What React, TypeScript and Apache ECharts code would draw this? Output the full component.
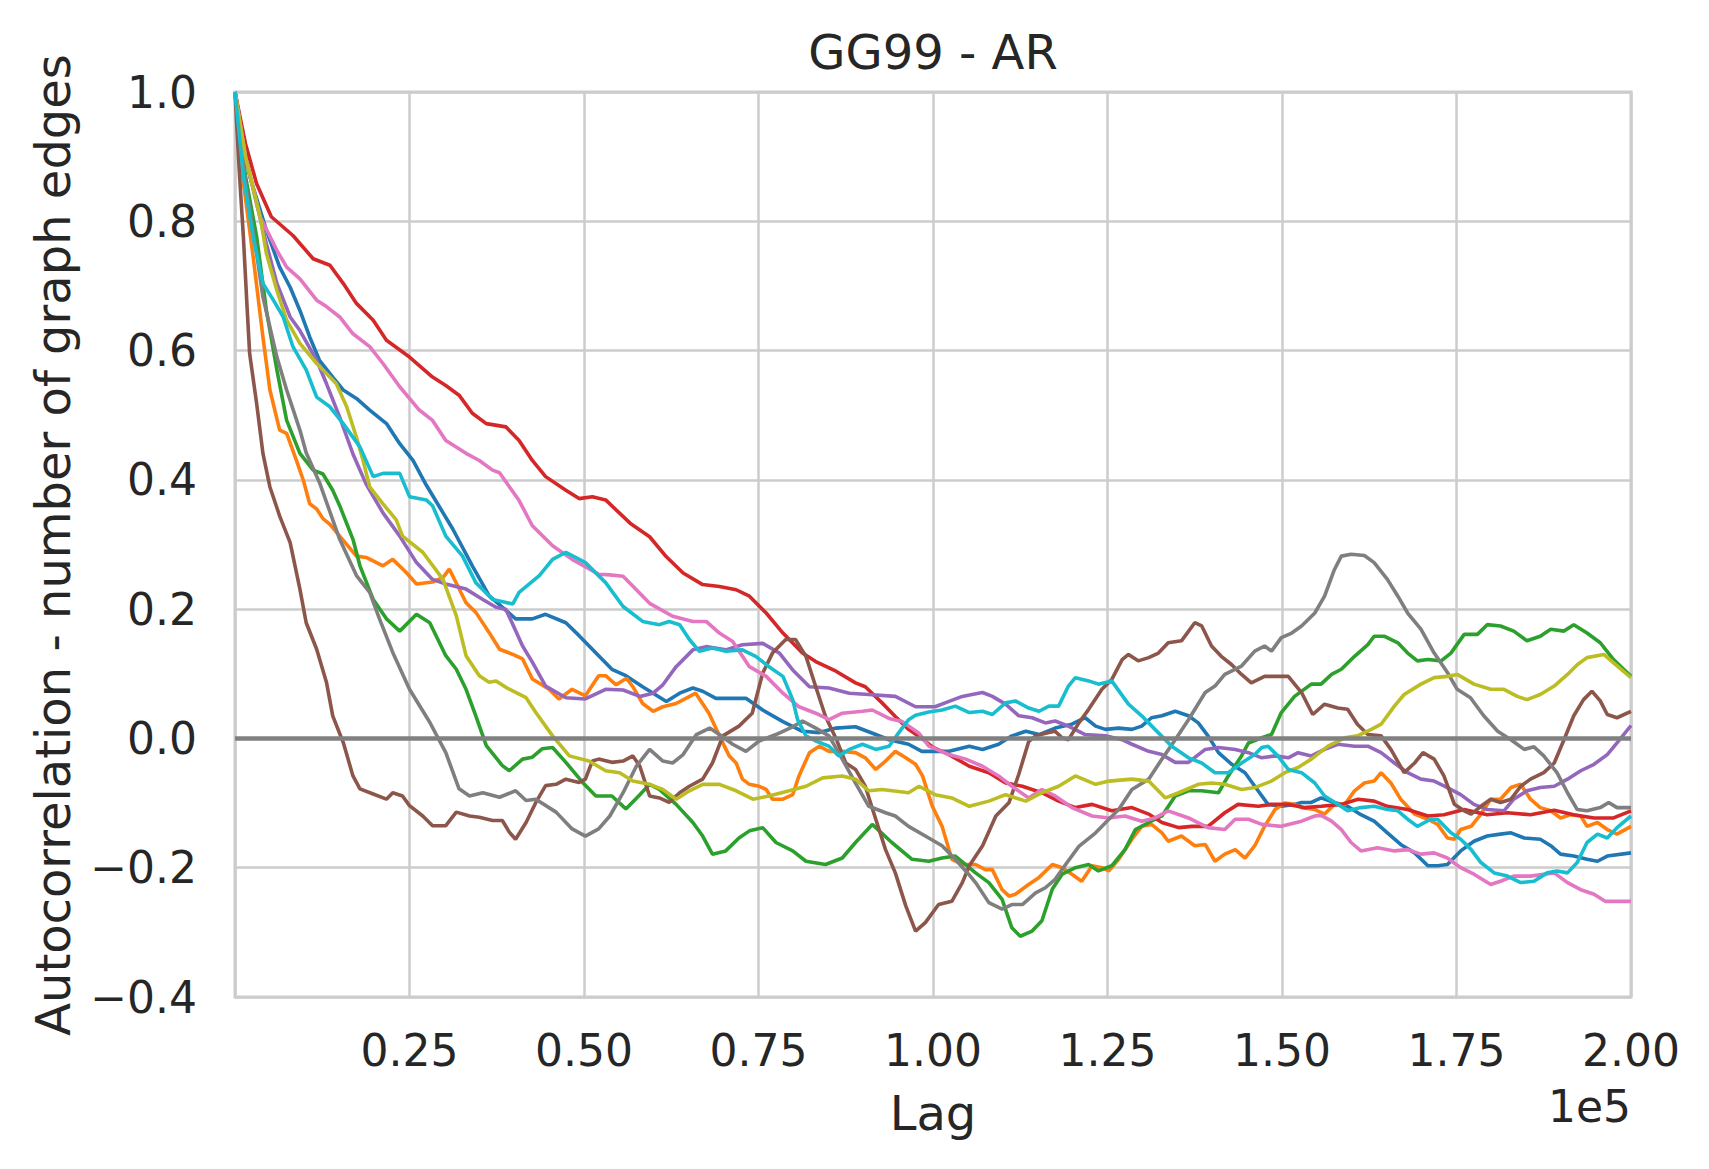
import React, { useEffect, useRef } from "react";
import * as echarts from "echarts";

type Pt = [number, number];

// Lag in units of 1e5, autocorrelation values
const seriesC0: Pt[] = [[0,1],[0.021,0.87],[0.045,0.786],[0.064,0.729],[0.079,0.698],[0.093,0.662],[0.107,0.621],[0.121,0.585],[0.14,0.559],[0.155,0.539],[0.174,0.526],[0.193,0.508],[0.217,0.487],[0.236,0.456],[0.255,0.43],[0.274,0.392],[0.293,0.358],[0.312,0.324],[0.34,0.267],[0.364,0.221],[0.402,0.185],[0.426,0.185],[0.445,0.192],[0.474,0.179],[0.493,0.159],[0.521,0.128],[0.54,0.107],[0.56,0.097],[0.584,0.08],[0.618,0.057],[0.637,0.07],[0.656,0.078],[0.67,0.073],[0.689,0.062],[0.708,0.062],[0.732,0.062],[0.756,0.044],[0.785,0.026],[0.813,0.011],[0.837,0.009],[0.861,0.016],[0.889,0.018],[0.918,0.006],[0.937,-0.002],[0.965,-0.009],[0.984,-0.02],[1.003,-0.02],[1.023,-0.02],[1.052,-0.012],[1.071,-0.017],[1.094,-0.009],[1.113,0.004],[1.133,0.011],[1.152,0.006],[1.175,0.016],[1.199,0.022],[1.218,0.032],[1.233,0.019],[1.247,0.014],[1.266,0.016],[1.285,0.014],[1.299,0.019],[1.313,0.032],[1.328,0.035],[1.347,0.042],[1.366,0.035],[1.38,0.024],[1.394,0.004],[1.409,-0.022],[1.428,-0.04],[1.447,-0.053],[1.461,-0.074],[1.48,-0.102],[1.499,-0.105],[1.518,-0.102],[1.528,-0.099],[1.542,-0.099],[1.556,-0.092],[1.575,-0.099],[1.594,-0.105],[1.613,-0.118],[1.632,-0.128],[1.651,-0.146],[1.67,-0.164],[1.69,-0.177],[1.709,-0.197],[1.723,-0.197],[1.737,-0.195],[1.756,-0.174],[1.775,-0.159],[1.794,-0.151],[1.813,-0.148],[1.828,-0.146],[1.847,-0.154],[1.87,-0.156],[1.885,-0.166],[1.899,-0.179],[1.918,-0.182],[1.937,-0.187],[1.952,-0.19],[1.966,-0.182],[2.0,-0.177]];

const seriesC1: Pt[] = [[0,1],[0.012,0.86],[0.026,0.745],[0.04,0.621],[0.05,0.539],[0.064,0.477],[0.074,0.472],[0.088,0.43],[0.098,0.399],[0.107,0.363],[0.117,0.355],[0.126,0.34],[0.136,0.331],[0.15,0.313],[0.174,0.282],[0.188,0.28],[0.212,0.267],[0.226,0.277],[0.245,0.257],[0.26,0.239],[0.283,0.242],[0.298,0.249],[0.307,0.262],[0.331,0.21],[0.345,0.195],[0.364,0.164],[0.379,0.138],[0.398,0.13],[0.412,0.123],[0.426,0.092],[0.45,0.076],[0.464,0.061],[0.483,0.076],[0.502,0.066],[0.521,0.097],[0.531,0.097],[0.546,0.083],[0.561,0.093],[0.57,0.08],[0.584,0.054],[0.599,0.042],[0.613,0.049],[0.632,0.054],[0.646,0.062],[0.66,0.07],[0.679,0.039],[0.694,0.004],[0.708,-0.027],[0.718,-0.038],[0.727,-0.063],[0.737,-0.071],[0.751,-0.074],[0.761,-0.079],[0.77,-0.094],[0.785,-0.094],[0.799,-0.087],[0.808,-0.058],[0.823,-0.022],[0.837,-0.012],[0.851,-0.02],[0.87,-0.02],[0.889,-0.022],[0.903,-0.03],[0.918,-0.048],[0.932,-0.035],[0.946,-0.02],[0.961,-0.03],[0.975,-0.04],[0.985,-0.058],[0.999,-0.105],[1.013,-0.136],[1.027,-0.187],[1.042,-0.195],[1.061,-0.195],[1.075,-0.203],[1.085,-0.203],[1.099,-0.234],[1.109,-0.244],[1.118,-0.241],[1.137,-0.226],[1.152,-0.215],[1.171,-0.195],[1.185,-0.2],[1.199,-0.21],[1.213,-0.221],[1.228,-0.197],[1.242,-0.2],[1.252,-0.205],[1.266,-0.187],[1.285,-0.156],[1.299,-0.136],[1.313,-0.133],[1.328,-0.146],[1.337,-0.159],[1.356,-0.151],[1.375,-0.166],[1.39,-0.164],[1.404,-0.19],[1.418,-0.179],[1.433,-0.172],[1.447,-0.185],[1.461,-0.166],[1.475,-0.136],[1.49,-0.11],[1.504,-0.1],[1.518,-0.102],[1.528,-0.107],[1.547,-0.11],[1.561,-0.117],[1.575,-0.102],[1.59,-0.102],[1.604,-0.081],[1.618,-0.069],[1.632,-0.066],[1.642,-0.053],[1.656,-0.069],[1.67,-0.094],[1.69,-0.117],[1.709,-0.125],[1.723,-0.133],[1.737,-0.154],[1.747,-0.156],[1.756,-0.141],[1.771,-0.136],[1.785,-0.117],[1.799,-0.094],[1.813,-0.094],[1.828,-0.076],[1.842,-0.071],[1.856,-0.094],[1.87,-0.107],[1.885,-0.112],[1.899,-0.123],[1.913,-0.118],[1.928,-0.12],[1.937,-0.136],[1.952,-0.13],[1.966,-0.141],[1.98,-0.148],[2.0,-0.136]];

const seriesC2: Pt[] = [[0,1],[0.015,0.87],[0.031,0.776],[0.045,0.662],[0.06,0.57],[0.074,0.492],[0.093,0.441],[0.112,0.415],[0.126,0.409],[0.14,0.384],[0.15,0.36],[0.169,0.308],[0.179,0.267],[0.198,0.215],[0.217,0.185],[0.236,0.166],[0.26,0.192],[0.279,0.179],[0.302,0.128],[0.317,0.107],[0.331,0.076],[0.345,0.035],[0.36,-0.011],[0.383,-0.042],[0.393,-0.05],[0.412,-0.032],[0.426,-0.029],[0.44,-0.016],[0.455,-0.014],[0.474,-0.037],[0.498,-0.068],[0.517,-0.089],[0.54,-0.089],[0.56,-0.109],[0.58,-0.087],[0.594,-0.071],[0.608,-0.079],[0.632,-0.102],[0.656,-0.13],[0.67,-0.151],[0.684,-0.179],[0.703,-0.174],[0.722,-0.154],[0.737,-0.143],[0.756,-0.138],[0.775,-0.161],[0.799,-0.174],[0.818,-0.19],[0.846,-0.195],[0.87,-0.185],[0.889,-0.161],[0.913,-0.133],[0.941,-0.161],[0.97,-0.187],[0.994,-0.19],[1.013,-0.185],[1.032,-0.182],[1.061,-0.208],[1.08,-0.223],[1.099,-0.249],[1.113,-0.293],[1.125,-0.306],[1.142,-0.298],[1.156,-0.282],[1.171,-0.233],[1.185,-0.21],[1.204,-0.2],[1.223,-0.195],[1.237,-0.205],[1.256,-0.197],[1.275,-0.172],[1.29,-0.141],[1.309,-0.13],[1.328,-0.12],[1.347,-0.089],[1.366,-0.081],[1.385,-0.081],[1.409,-0.084],[1.423,-0.058],[1.442,-0.027],[1.452,-0.007],[1.471,0.001],[1.485,0.006],[1.499,0.04],[1.518,0.065],[1.542,0.084],[1.556,0.084],[1.571,0.099],[1.585,0.107],[1.604,0.127],[1.623,0.145],[1.632,0.158],[1.647,0.158],[1.666,0.148],[1.68,0.132],[1.694,0.12],[1.709,0.122],[1.728,0.12],[1.742,0.132],[1.761,0.161],[1.78,0.161],[1.794,0.176],[1.813,0.174],[1.832,0.166],[1.851,0.151],[1.87,0.158],[1.885,0.169],[1.904,0.166],[1.918,0.176],[1.937,0.163],[1.956,0.148],[1.975,0.122],[2.0,0.096]];

const seriesC3: Pt[] = [[0,1],[0.015,0.92],[0.031,0.858],[0.052,0.807],[0.083,0.778],[0.112,0.742],[0.136,0.732],[0.155,0.704],[0.174,0.673],[0.198,0.647],[0.217,0.616],[0.25,0.59],[0.283,0.559],[0.302,0.546],[0.321,0.531],[0.34,0.503],[0.36,0.487],[0.388,0.482],[0.407,0.461],[0.426,0.43],[0.445,0.405],[0.474,0.384],[0.493,0.371],[0.512,0.374],[0.531,0.369],[0.566,0.333],[0.594,0.312],[0.618,0.281],[0.642,0.256],[0.67,0.238],[0.694,0.235],[0.718,0.23],[0.737,0.22],[0.761,0.194],[0.785,0.163],[0.813,0.132],[0.832,0.119],[0.861,0.104],[0.889,0.086],[0.903,0.08],[0.927,0.055],[0.946,0.034],[0.965,0.014],[0.984,0.0],[1.0,-0.014],[1.023,-0.025],[1.052,-0.043],[1.08,-0.053],[1.104,-0.069],[1.128,-0.074],[1.156,-0.084],[1.18,-0.097],[1.204,-0.107],[1.228,-0.102],[1.256,-0.112],[1.285,-0.107],[1.309,-0.117],[1.328,-0.13],[1.352,-0.138],[1.371,-0.136],[1.394,-0.136],[1.418,-0.115],[1.437,-0.102],[1.466,-0.105],[1.485,-0.102],[1.509,-0.102],[1.532,-0.107],[1.556,-0.105],[1.585,-0.102],[1.609,-0.094],[1.632,-0.097],[1.651,-0.105],[1.68,-0.11],[1.709,-0.12],[1.732,-0.118],[1.761,-0.11],[1.794,-0.118],[1.823,-0.115],[1.856,-0.118],[1.89,-0.111],[1.918,-0.118],[1.947,-0.123],[1.975,-0.123],[2.0,-0.112]];

const seriesC4: Pt[] = [[0,1],[0.015,0.9],[0.031,0.827],[0.045,0.765],[0.06,0.704],[0.079,0.652],[0.093,0.631],[0.117,0.585],[0.131,0.549],[0.15,0.497],[0.169,0.44],[0.188,0.393],[0.212,0.349],[0.236,0.313],[0.26,0.272],[0.283,0.246],[0.302,0.239],[0.331,0.231],[0.355,0.215],[0.374,0.203],[0.388,0.2],[0.412,0.143],[0.426,0.118],[0.445,0.081],[0.474,0.063],[0.502,0.061],[0.531,0.076],[0.556,0.075],[0.58,0.065],[0.599,0.07],[0.613,0.083],[0.632,0.111],[0.656,0.137],[0.675,0.142],[0.703,0.137],[0.727,0.145],[0.756,0.147],[0.78,0.132],[0.799,0.106],[0.823,0.08],[0.851,0.078],[0.88,0.07],[0.908,0.068],[0.946,0.065],[0.975,0.049],[1.003,0.049],[1.022,0.057],[1.042,0.065],[1.056,0.068],[1.071,0.071],[1.085,0.065],[1.104,0.053],[1.123,0.035],[1.142,0.032],[1.161,0.024],[1.175,0.027],[1.194,0.019],[1.218,0.006],[1.247,0.004],[1.271,-0.002],[1.285,-0.009],[1.309,-0.02],[1.328,-0.025],[1.347,-0.037],[1.366,-0.037],[1.39,-0.017],[1.409,-0.014],[1.433,-0.017],[1.452,-0.022],[1.471,-0.03],[1.49,-0.027],[1.509,-0.03],[1.523,-0.022],[1.542,-0.027],[1.561,-0.017],[1.58,-0.009],[1.604,-0.012],[1.623,-0.012],[1.642,-0.022],[1.661,-0.038],[1.68,-0.053],[1.699,-0.063],[1.718,-0.066],[1.737,-0.076],[1.756,-0.087],[1.775,-0.102],[1.794,-0.11],[1.818,-0.112],[1.832,-0.094],[1.851,-0.081],[1.87,-0.076],[1.89,-0.074],[1.909,-0.063],[1.928,-0.05],[1.947,-0.04],[1.966,-0.025],[1.98,-0.007],[2.0,0.02]];

const seriesC5: Pt[] = [[0,1],[0.006,0.88],[0.012,0.776],[0.017,0.673],[0.021,0.595],[0.031,0.518],[0.04,0.441],[0.05,0.389],[0.064,0.344],[0.079,0.303],[0.093,0.231],[0.102,0.179],[0.117,0.138],[0.131,0.087],[0.14,0.035],[0.155,-0.006],[0.169,-0.058],[0.179,-0.078],[0.198,-0.086],[0.217,-0.094],[0.226,-0.084],[0.24,-0.089],[0.25,-0.104],[0.269,-0.12],[0.283,-0.135],[0.302,-0.135],[0.317,-0.114],[0.336,-0.12],[0.35,-0.122],[0.369,-0.127],[0.383,-0.127],[0.393,-0.145],[0.402,-0.156],[0.417,-0.13],[0.431,-0.099],[0.445,-0.073],[0.46,-0.071],[0.474,-0.063],[0.493,-0.068],[0.502,-0.063],[0.512,-0.035],[0.521,-0.032],[0.54,-0.037],[0.556,-0.035],[0.57,-0.027],[0.58,-0.043],[0.594,-0.089],[0.608,-0.092],[0.622,-0.099],[0.637,-0.084],[0.651,-0.074],[0.67,-0.063],[0.684,-0.038],[0.699,0.004],[0.722,0.019],[0.741,0.039],[0.756,0.101],[0.77,0.132],[0.789,0.153],[0.803,0.153],[0.818,0.127],[0.832,0.08],[0.846,0.034],[0.861,0.0],[0.875,-0.038],[0.889,-0.048],[0.903,-0.074],[0.918,-0.125],[0.932,-0.172],[0.946,-0.208],[0.961,-0.259],[0.975,-0.298],[0.989,-0.285],[1.008,-0.257],[1.027,-0.252],[1.042,-0.223],[1.052,-0.197],[1.071,-0.166],[1.09,-0.12],[1.109,-0.099],[1.123,-0.055],[1.137,-0.005],[1.147,0.004],[1.166,0.009],[1.175,0.011],[1.185,0.001],[1.194,-0.002],[1.209,0.024],[1.223,0.045],[1.242,0.076],[1.256,0.091],[1.271,0.122],[1.28,0.13],[1.294,0.12],[1.309,0.125],[1.323,0.132],[1.337,0.148],[1.356,0.151],[1.375,0.179],[1.385,0.174],[1.399,0.143],[1.413,0.127],[1.428,0.114],[1.442,0.099],[1.456,0.086],[1.475,0.096],[1.494,0.096],[1.509,0.096],[1.528,0.071],[1.544,0.037],[1.561,0.053],[1.58,0.047],[1.594,0.045],[1.608,0.022],[1.623,0.006],[1.642,0.004],[1.656,-0.017],[1.675,-0.053],[1.69,-0.038],[1.702,-0.022],[1.718,-0.032],[1.732,-0.058],[1.747,-0.102],[1.761,-0.112],[1.771,-0.117],[1.785,-0.105],[1.799,-0.094],[1.813,-0.099],[1.828,-0.094],[1.842,-0.074],[1.856,-0.063],[1.875,-0.053],[1.89,-0.038],[1.904,-0.002],[1.918,0.035],[1.932,0.06],[1.944,0.073],[1.956,0.058],[1.966,0.037],[1.98,0.032],[2.0,0.042]];

const seriesC6: Pt[] = [[0,1],[0.015,0.9],[0.036,0.807],[0.06,0.755],[0.074,0.729],[0.093,0.711],[0.117,0.678],[0.131,0.668],[0.15,0.652],[0.169,0.626],[0.193,0.606],[0.212,0.58],[0.236,0.544],[0.264,0.508],[0.283,0.492],[0.302,0.461],[0.331,0.441],[0.35,0.43],[0.369,0.415],[0.379,0.411],[0.407,0.368],[0.426,0.329],[0.455,0.298],[0.483,0.277],[0.521,0.254],[0.537,0.253],[0.556,0.251],[0.575,0.23],[0.594,0.209],[0.627,0.189],[0.656,0.181],[0.675,0.181],[0.694,0.163],[0.713,0.15],[0.737,0.111],[0.761,0.096],[0.785,0.07],[0.808,0.049],[0.832,0.039],[0.851,0.029],[0.87,0.039],[0.899,0.042],[0.913,0.044],[0.937,0.031],[0.956,0.026],[0.98,0.008],[0.994,-0.012],[1.023,-0.025],[1.047,-0.032],[1.071,-0.043],[1.094,-0.058],[1.113,-0.074],[1.137,-0.092],[1.156,-0.079],[1.175,-0.089],[1.199,-0.107],[1.228,-0.12],[1.252,-0.123],[1.275,-0.12],[1.299,-0.128],[1.318,-0.123],[1.337,-0.112],[1.366,-0.123],[1.394,-0.138],[1.418,-0.141],[1.433,-0.125],[1.452,-0.125],[1.471,-0.133],[1.499,-0.136],[1.528,-0.128],[1.547,-0.12],[1.556,-0.119],[1.571,-0.128],[1.585,-0.141],[1.599,-0.161],[1.613,-0.174],[1.637,-0.169],[1.661,-0.174],[1.68,-0.172],[1.699,-0.179],[1.718,-0.177],[1.737,-0.185],[1.756,-0.2],[1.775,-0.21],[1.799,-0.226],[1.813,-0.221],[1.832,-0.213],[1.856,-0.213],[1.875,-0.21],[1.89,-0.208],[1.909,-0.223],[1.928,-0.234],[1.947,-0.241],[1.963,-0.252],[2.0,-0.252]];

const seriesC7: Pt[] = [[0,1],[0.015,0.86],[0.031,0.75],[0.04,0.683],[0.06,0.59],[0.074,0.539],[0.093,0.477],[0.102,0.442],[0.121,0.396],[0.15,0.308],[0.174,0.252],[0.193,0.226],[0.207,0.185],[0.226,0.133],[0.25,0.076],[0.279,0.025],[0.302,-0.022],[0.321,-0.078],[0.336,-0.089],[0.355,-0.084],[0.379,-0.091],[0.402,-0.081],[0.417,-0.096],[0.431,-0.094],[0.46,-0.114],[0.483,-0.14],[0.502,-0.151],[0.521,-0.14],[0.537,-0.12],[0.556,-0.084],[0.575,-0.043],[0.594,-0.017],[0.613,-0.035],[0.627,-0.038],[0.642,-0.025],[0.661,0.006],[0.68,0.016],[0.694,0.006],[0.713,-0.009],[0.732,-0.02],[0.751,-0.004],[0.775,0.006],[0.799,0.018],[0.813,0.027],[0.832,0.016],[0.851,0.004],[0.87,-0.032],[0.889,-0.069],[0.908,-0.105],[0.932,-0.115],[0.946,-0.12],[0.965,-0.136],[0.989,-0.151],[1.013,-0.166],[1.032,-0.187],[1.051,-0.21],[1.061,-0.223],[1.08,-0.254],[1.099,-0.264],[1.113,-0.257],[1.128,-0.257],[1.147,-0.239],[1.161,-0.231],[1.175,-0.218],[1.19,-0.195],[1.209,-0.167],[1.233,-0.146],[1.252,-0.125],[1.266,-0.11],[1.285,-0.079],[1.309,-0.063],[1.328,-0.032],[1.347,-0.002],[1.366,0.029],[1.39,0.071],[1.404,0.081],[1.418,0.099],[1.442,0.112],[1.461,0.135],[1.475,0.143],[1.485,0.135],[1.499,0.156],[1.514,0.163],[1.528,0.174],[1.547,0.194],[1.561,0.22],[1.575,0.261],[1.585,0.282],[1.599,0.285],[1.618,0.283],[1.632,0.272],[1.651,0.246],[1.666,0.22],[1.68,0.194],[1.699,0.169],[1.718,0.132],[1.737,0.102],[1.751,0.076],[1.77,0.063],[1.789,0.035],[1.809,0.011],[1.828,-0.002],[1.847,-0.017],[1.861,-0.013],[1.875,-0.027],[1.894,-0.053],[1.909,-0.084],[1.923,-0.11],[1.937,-0.112],[1.956,-0.107],[1.968,-0.099],[1.98,-0.107],[2.0,-0.107]];

const seriesC8: Pt[] = [[0,1],[0.015,0.9],[0.036,0.807],[0.045,0.75],[0.06,0.693],[0.074,0.647],[0.093,0.611],[0.117,0.58],[0.145,0.549],[0.16,0.513],[0.174,0.466],[0.183,0.432],[0.193,0.389],[0.212,0.363],[0.231,0.338],[0.24,0.313],[0.269,0.288],[0.298,0.246],[0.317,0.19],[0.331,0.128],[0.35,0.097],[0.364,0.087],[0.374,0.089],[0.388,0.079],[0.417,0.063],[0.431,0.04],[0.455,0.004],[0.479,-0.027],[0.507,-0.035],[0.531,-0.05],[0.551,-0.053],[0.57,-0.066],[0.594,-0.071],[0.613,-0.079],[0.632,-0.094],[0.651,-0.081],[0.67,-0.071],[0.694,-0.071],[0.718,-0.081],[0.742,-0.094],[0.765,-0.089],[0.794,-0.081],[0.818,-0.074],[0.842,-0.061],[0.87,-0.058],[0.889,-0.063],[0.908,-0.081],[0.927,-0.079],[0.965,-0.084],[0.98,-0.074],[1.003,-0.087],[1.027,-0.092],[1.052,-0.105],[1.08,-0.097],[1.104,-0.087],[1.133,-0.097],[1.156,-0.084],[1.18,-0.074],[1.204,-0.058],[1.233,-0.071],[1.252,-0.066],[1.285,-0.063],[1.309,-0.066],[1.333,-0.092],[1.352,-0.084],[1.38,-0.071],[1.399,-0.069],[1.418,-0.071],[1.442,-0.079],[1.461,-0.076],[1.485,-0.066],[1.504,-0.053],[1.523,-0.045],[1.542,-0.032],[1.566,-0.012],[1.59,0.001],[1.608,0.004],[1.628,0.014],[1.642,0.022],[1.661,0.05],[1.675,0.068],[1.699,0.084],[1.718,0.094],[1.737,0.096],[1.751,0.099],[1.775,0.084],[1.799,0.076],[1.818,0.076],[1.837,0.065],[1.851,0.06],[1.87,0.068],[1.89,0.081],[1.909,0.099],[1.923,0.114],[1.937,0.125],[1.961,0.13],[1.975,0.117],[2.0,0.094]];

const seriesC9: Pt[] = [[0,1],[0.012,0.87],[0.026,0.776],[0.04,0.704],[0.055,0.678],[0.069,0.652],[0.083,0.606],[0.102,0.57],[0.117,0.528],[0.136,0.513],[0.155,0.487],[0.179,0.451],[0.198,0.405],[0.212,0.41],[0.236,0.41],[0.25,0.374],[0.274,0.369],[0.283,0.36],[0.302,0.313],[0.326,0.282],[0.345,0.241],[0.369,0.215],[0.398,0.208],[0.407,0.226],[0.436,0.252],[0.455,0.277],[0.474,0.288],[0.502,0.272],[0.531,0.241],[0.556,0.204],[0.584,0.181],[0.608,0.176],[0.622,0.181],[0.637,0.176],[0.651,0.153],[0.665,0.135],[0.684,0.14],[0.703,0.135],[0.727,0.137],[0.746,0.127],[0.765,0.111],[0.785,0.096],[0.799,0.06],[0.806,0.029],[0.818,0.004],[0.832,-0.004],[0.851,-0.012],[0.865,-0.027],[0.88,-0.017],[0.899,-0.009],[0.918,-0.017],[0.937,-0.012],[0.951,0.009],[0.965,0.029],[0.975,0.036],[0.994,0.041],[1.013,0.044],[1.032,0.05],[1.052,0.04],[1.071,0.042],[1.085,0.037],[1.104,0.055],[1.118,0.058],[1.137,0.047],[1.152,0.042],[1.166,0.05],[1.18,0.05],[1.194,0.081],[1.204,0.094],[1.223,0.089],[1.237,0.084],[1.256,0.089],[1.28,0.053],[1.299,0.035],[1.318,0.014],[1.342,-0.012],[1.366,-0.03],[1.385,-0.038],[1.404,-0.053],[1.423,-0.053],[1.442,-0.038],[1.461,-0.025],[1.471,-0.014],[1.48,-0.012],[1.494,-0.027],[1.509,-0.048],[1.528,-0.053],[1.547,-0.069],[1.561,-0.089],[1.58,-0.102],[1.594,-0.112],[1.613,-0.107],[1.632,-0.105],[1.651,-0.11],[1.666,-0.112],[1.68,-0.125],[1.694,-0.136],[1.713,-0.125],[1.723,-0.125],[1.742,-0.146],[1.756,-0.156],[1.771,-0.172],[1.785,-0.192],[1.804,-0.208],[1.823,-0.213],[1.842,-0.223],[1.861,-0.221],[1.88,-0.208],[1.894,-0.205],[1.909,-0.208],[1.923,-0.192],[1.937,-0.161],[1.952,-0.148],[1.966,-0.154],[1.98,-0.138],[2.0,-0.12]];

const allSeries: Pt[][] = [seriesC0, seriesC1, seriesC2, seriesC3, seriesC4, seriesC5, seriesC6, seriesC7, seriesC8, seriesC9];
const seriesNames = ["C0", "C1", "C2", "C3", "C4", "C5", "C6", "C7", "C8", "C9"];
const palette = ["#1f77b4", "#ff7f0e", "#2ca02c", "#d62728", "#9467bd", "#8c564b", "#e377c2", "#7f7f7f", "#bcbd22", "#17becf"];
const zeroLine: Pt[] = [[0, 0], [2, 0]];

const titleText = "GG99 - AR";
const xLabelText = "Lag";
const yLabelText = "Autocorrelation - number of graph edges";
const offsetText = "1e5";

const FONT = "DejaVu Sans";
const TEXT = "#262626";

export default function App() {
  const ref = useRef<HTMLDivElement>(null);
  useEffect(() => {
    if (!ref.current) return;
    const chart = echarts.init(ref.current, undefined, { renderer: "svg" });
    const gridLeft = 235, gridTop = 92, gridRight = 78, gridBottom = 172;
    const plotCx = gridLeft + (1709 - gridLeft - gridRight) / 2;
    chart.setOption({
      animation: false,
      backgroundColor: "#ffffff",
      grid: {
        left: gridLeft, top: gridTop, right: gridRight, bottom: gridBottom,
        show: true, borderColor: "#cccccc", borderWidth: 3, backgroundColor: "#ffffff",
      },
      xAxis: {
        type: "value", min: 0, max: 2, interval: 0.25,
        axisLine: { show: false }, axisTick: { show: false },
        splitLine: { show: true, lineStyle: { color: "#cccccc", width: 2.5 } },
        axisLabel: {
          fontFamily: FONT, fontSize: 44, color: TEXT, margin: 31,
          formatter: (v: number) => (v < 1e-9 ? "" : v.toFixed(2)),
        },
      },
      yAxis: {
        type: "value", min: -0.4, max: 1.0, interval: 0.2,
        axisLine: { show: false }, axisTick: { show: false },
        splitLine: { show: true, lineStyle: { color: "#cccccc", width: 2.5 } },
        axisLabel: {
          fontFamily: FONT, fontSize: 44, color: TEXT, margin: 38,
          formatter: (v: number) => (Math.abs(v) < 1e-9 ? "0.0" : v.toFixed(1).replace("-", "\u2212")),
        },
      },
      series: [
        ...allSeries.map((d, i) => ({
          type: "line", name: seriesNames[i], data: d, showSymbol: false, symbol: "none",
          lineStyle: { color: palette[i], width: 3.6 }, itemStyle: { color: palette[i] },
          z: 2 + i * 0.01,
        })),
        {
          type: "line", name: "zero", data: zeroLine, showSymbol: false, symbol: "none",
          lineStyle: { color: "#808080", width: 4.5 }, z: 3,
        },
      ],
      graphic: [
        { type: "text", x: plotCx, y: 52, style: { text: titleText, font: `48px '${FONT}'`, fill: TEXT, textAlign: "center", textVerticalAlign: "middle" } },
        { type: "text", x: plotCx, y: 1113, style: { text: xLabelText, font: `48px '${FONT}'`, fill: TEXT, textAlign: "center", textVerticalAlign: "middle" } },
        { type: "text", x: 1631, y: 1106, style: { text: offsetText, font: `44px '${FONT}'`, fill: TEXT, textAlign: "right", textVerticalAlign: "middle" } },
        { type: "text", x: 53, y: 545, rotation: Math.PI / 2, style: { text: yLabelText, font: `48px '${FONT}'`, fill: TEXT, textAlign: "center", textVerticalAlign: "middle" } },
      ],
    });
    return () => chart.dispose();
  }, []);
  return <div ref={ref} style={{ position: "absolute", left: 0, top: 0, width: 1709, height: 1169 }} />;
}
